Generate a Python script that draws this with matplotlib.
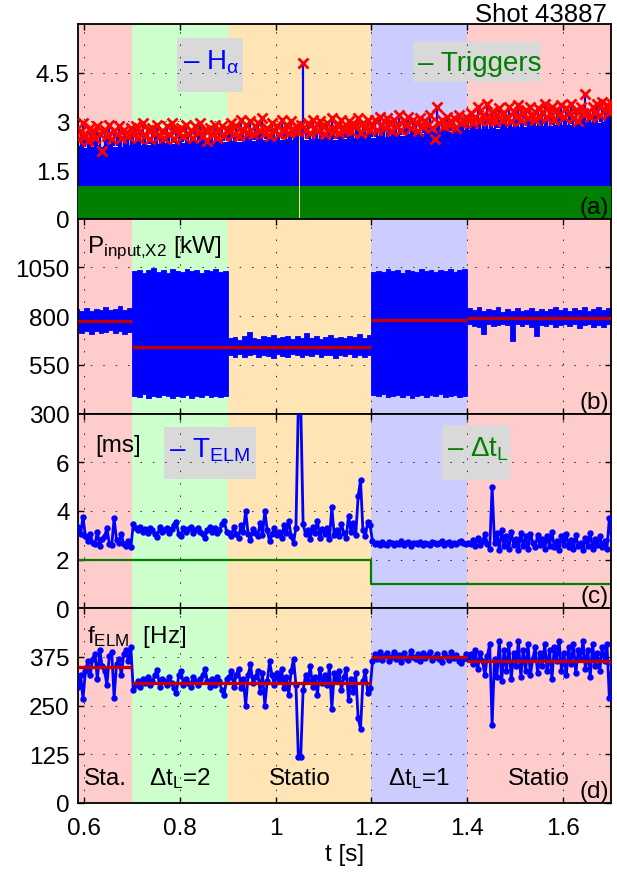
import numpy as np
import matplotlib
matplotlib.use("Agg")
import matplotlib.pyplot as plt
from matplotlib.patches import Rectangle
from matplotlib.transforms import blended_transform_factory

plt.rcParams.update({
    "font.family": ["Liberation Sans", "DejaVu Sans"],
    "font.size": 17.5,
    "mathtext.fontset": "custom",
    "mathtext.rm": "Liberation Sans",
    "mathtext.it": "Liberation Sans:italic",
    "mathtext.bf": "Liberation Sans:bold",
    "mathtext.default": "regular",
    "axes.linewidth": 1.3,
    "xtick.direction": "in",
    "ytick.direction": "in",
    "xtick.top": True,
    "ytick.right": True,
    "xtick.major.size": 4,
    "ytick.major.size": 4,
    "xtick.major.width": 1.0,
    "ytick.major.width": 1.0,
    "xtick.major.pad": 10,
    "ytick.major.pad": 6,
})

# ---------------- time bases ----------------
t_env = 0.585 + 0.01 * np.arange(113)     # 10 ms envelope samples
t_elm = 0.5875 + 0.005 * np.arange(224)   # 5 ms ELM samples

# experiment phases
phase_edges = [0.587, 0.7, 0.9, 1.2, 1.4, 1.701]
phase_colors = ["#ffcccc", "#ccffcc", "#ffe4b5", "#ccccff", "#ffcccc"]
phase_labels = ["Sta.", "Δt$_L$=2", "Statio", "Δt$_L$=1", "Statio"]
mean_edges = [0.587, 0.7, 1.2, 1.4, 1.701]

# ---------------- (a) H-alpha and triggers ----------------
ha_env = ([2.20, 2.25, 2.18, 2.22, 2.28, 2.20, 2.24, 2.30, 2.22, 2.26, 2.20, 2.28]
          + [2.30, 2.26, 2.32, 2.28, 2.35, 2.30, 2.33, 2.38, 2.31, 2.36,
             2.34, 2.40, 2.33, 2.37, 2.42, 2.35, 2.39, 2.36, 2.41, 2.38]
          + [2.40, 2.44, 2.38, 2.42, 2.46, 2.40, 2.45, 2.43, 2.48, 2.42,
             2.46, 2.44, 2.47, 2.43, 2.45, 2.49, 2.44, 2.47, 2.45, 2.50,
             2.46, 2.48, 2.44, 2.50, 2.47, 2.52, 2.48, 2.51, 2.49, 2.53]
          + [2.50, 2.54, 2.52, 2.57, 2.55, 2.60, 2.56, 2.62, 2.60, 2.64,
             2.62, 2.66, 2.64, 2.68, 2.66, 2.70, 2.68, 2.72, 2.70, 2.74]
          + [2.72, 2.76, 2.74, 2.78, 2.76, 2.80, 2.78, 2.82, 2.80, 2.84,
             2.82, 2.86, 2.84, 2.85, 2.87, 2.86, 2.88, 2.87, 2.90, 2.88,
             2.91, 2.90, 2.93, 2.92, 2.95, 2.94, 2.97, 2.96, 2.99, 3.00, 3.00])

ha_peak = ([2.45, 2.70, 2.95, 2.55, 2.40, 2.80, 2.65, 2.50, 2.85, 2.60,
            2.08, 2.75, 2.55, 2.90, 2.45, 2.70, 2.60, 2.85, 2.50, 2.75,
            2.65, 2.55, 2.80]
           + [2.60, 2.85, 2.50, 2.70, 2.95, 2.55, 2.75, 2.45, 2.80, 2.65,
              2.90, 2.55, 2.70, 2.50, 2.85, 2.60, 2.95, 2.45, 2.75, 2.65,
              2.80, 2.55, 2.90, 2.60, 2.70, 2.50, 2.85, 2.65, 2.95, 2.55,
              2.75, 2.40, 2.80, 2.60, 2.90, 2.50, 2.70, 2.85, 2.55, 2.75]
           + [2.70, 2.95, 2.60, 2.85, 2.55, 3.05, 2.75, 2.90, 2.65, 3.00,
              2.60, 2.85, 2.95, 2.70, 3.10, 2.65, 2.80, 2.55, 2.95, 2.75,
              2.85, 2.60, 3.05, 2.70, 2.90, 2.65, 3.00, 2.75, 2.85, 2.70,
              2.90, 4.80, 2.75, 2.95, 2.65, 3.05, 2.80, 2.70, 3.00, 2.85,
              2.60, 2.95, 2.75, 3.10, 2.70, 2.90, 2.65, 3.05, 2.80, 2.75,
              3.00, 2.70, 2.90, 2.85, 3.10, 2.65, 2.95, 2.80, 3.05, 2.75]
           + [2.85, 3.05, 2.75, 3.15, 2.90, 2.80, 3.10, 2.95, 2.70, 3.05,
              2.85, 3.20, 2.75, 3.00, 2.90, 3.15, 2.80, 3.05, 2.95, 2.70,
              3.10, 2.85, 3.00, 2.90, 3.20, 2.80, 2.47, 3.43, 2.95, 3.05,
              2.85, 3.15, 2.90, 3.00, 3.10, 2.80, 3.20, 2.95, 3.05, 3.15]
           + [3.05, 3.25, 2.95, 3.15, 3.45, 3.00, 3.20, 3.10, 3.55, 3.05,
              3.30, 3.00, 3.20, 3.40, 3.05, 3.25, 3.10, 3.45, 3.00, 3.30,
              3.15, 3.50, 3.05, 3.25, 3.35, 3.10, 3.45, 3.20, 3.05, 3.40,
              3.15, 3.30, 3.55, 3.10, 3.25, 3.45, 3.05, 3.35, 3.20, 3.50,
              3.15, 3.40, 3.25, 3.55, 3.10, 3.35, 3.00, 3.45, 3.25, 3.83,
              3.30, 3.15, 3.45, 3.25, 3.55, 3.20, 3.60, 3.35, 3.50, 3.30,
              3.55])

signal_gap = (1.049, 1.052)   # acquisition dropout
trig_edges = [0.587, signal_gap[0], signal_gap[1], 1.701]
trig_level = [1, 0, 1, 1]

# ---------------- (b) input power ----------------
p_hi = ([835, 828, 842, 826, 838, 832, 845, 829, 836, 850, 833, 840]
        + [1030, 1038, 1022, 1035, 1045, 1028, 1036, 1024, 1040, 1032,
           1026, 1042, 1030, 1036, 1024, 1038, 1030, 1044, 1028, 1034]
        + [688, 695, 680, 700, 718, 690, 684, 698, 692, 705,
           686, 694, 700, 682, 696, 690, 712, 688, 698, 684,
           695, 702, 688, 694, 686, 700, 692, 708, 690, 704]
        + [1025, 1034, 1028, 1040, 1030, 1036, 1024, 1038, 1032, 1027,
           1042, 1030, 1035, 1026, 1038, 1031, 1044, 1029, 1036, 1040]
        + [842, 830, 848, 825, 838, 832, 845, 822, 836, 828,
           840, 826, 834, 844, 828, 838, 824, 835, 848, 830,
           840, 826, 842, 832, 845, 828, 838, 846, 830, 840, 835])
p_lo = ([728, 715, 722, 708, 725, 712, 720, 730, 714, 722, 710, 718]
        + [392, 385, 398, 380, 390, 384, 396, 388, 378, 392,
           386, 394, 382, 390, 387, 397, 383, 391, 385, 388]
        + [600, 592, 605, 588, 598, 606, 590, 602, 595, 585,
           603, 596, 590, 604, 598, 588, 600, 594, 606, 590,
           598, 602, 586, 600, 594, 604, 590, 598, 592, 602]
        + [395, 388, 400, 384, 392, 397, 386, 394, 381, 390,
           396, 385, 393, 388, 399, 383, 391, 395, 387, 392]
        + [758, 750, 745, 708, 762, 748, 755, 760, 752, 672,
           758, 750, 762, 746, 697, 756, 750, 760, 742, 755,
           762, 748, 758, 738, 752, 760, 746, 756, 744, 758, 752])
p_mean = [776, 642, 781, 788]

# ---------------- (c) ELM period and laser interval ----------------
t_elm_ms = ([3.35, 3.05, 3.75, 2.95, 2.75, 3.05, 2.70, 2.62, 3.15, 2.55,
             2.85, 2.95, 3.30, 2.65, 2.58, 3.70, 2.80, 2.70, 3.05, 2.62,
             2.55, 2.75, 2.50]
            + [3.45, 3.30, 3.20, 3.35, 3.15, 3.25, 3.10, 3.30, 3.20, 3.05,
               2.92, 3.35, 3.15, 3.20, 3.30, 3.10, 3.25, 3.40, 3.55, 3.05,
               2.95, 3.30, 3.15, 3.25, 3.35, 3.10, 3.20, 3.30, 3.15, 3.05,
               2.90, 3.20, 3.35, 3.15, 3.30, 3.10, 3.20, 3.45, 3.60, 3.15]
            + [3.10, 2.95, 3.35, 3.05, 2.90, 3.40, 3.15, 4.00, 3.05, 2.80,
               3.25, 3.10, 2.95, 3.50, 3.00, 4.00, 3.20, 2.75, 3.05, 3.30,
               3.00, 3.15, 2.90, 3.40, 3.10, 3.60, 2.95, 2.70, 3.30, 8.40,
               8.40, 3.45, 3.05, 3.20, 2.85, 3.35, 3.10, 3.60, 2.90, 3.25,
               3.05, 3.30, 2.85, 4.15, 3.00, 3.20, 2.95, 3.45, 3.10, 2.90,
               3.80, 3.15, 3.50, 3.00, 4.60, 5.25, 3.20, 2.95, 3.55, 3.40]
            + [2.75, 2.62, 2.70, 2.58, 2.72, 2.65, 2.60, 2.74, 2.66, 2.58,
               2.70, 2.64, 2.76, 2.60, 2.68, 2.72, 2.57, 2.66, 2.70, 2.62,
               2.74, 2.60, 2.68, 2.64, 2.58, 2.72, 2.66, 2.62, 2.70, 2.76,
               2.60, 2.66, 2.72, 2.58, 2.68, 2.64, 2.74, 2.78, 2.70, 2.62]
            + [2.70, 2.62, 2.80, 2.55, 2.90, 2.60, 2.75, 3.05, 2.65, 2.45,
               5.00, 2.70, 3.10, 2.40, 3.20, 2.55, 2.95, 2.45, 3.15, 2.60,
               2.85, 2.40, 3.10, 2.55, 2.95, 2.45, 3.05, 2.70, 2.50, 3.00,
               2.60, 2.85, 2.45, 2.95, 2.55, 3.15, 2.50, 2.75, 2.40, 2.95,
               2.60, 3.05, 2.50, 2.80, 2.45, 3.00, 2.55, 2.70, 2.40, 2.90,
               2.55, 3.10, 2.45, 2.85, 2.60, 2.95, 2.50, 2.75, 2.45, 3.70,
               2.80])
dtl_t = [0.587, 1.2, 1.701]
dtl_v = [2, 1, 1]

# ---------------- (d) ELM frequency ----------------
f_elm = 1000.0 / np.asarray(t_elm_ms)

BLUE = "#0000ff"
RED = "#ff0000"
DARKRED = "#c00000"
GREEN = "#008000"
BOXGRAY = "#d9d9d9"
LEGEND_FS = 20


def stair(t, v):
    """Staircase outline with each sample held over its own bin."""
    dt = t[1] - t[0]
    edges = np.append(t - dt / 2, t[-1] + dt / 2)
    x = np.repeat(edges, 2)[1:-1]
    y = np.repeat(np.asarray(v, float), 2)
    return x, y


def cut_gap(x, y, gap):
    left = x < gap[0]
    right = x > gap[1]
    yl = np.interp(gap[0], x, y)
    yr = np.interp(gap[1], x, y)
    xs = np.concatenate([x[left], [gap[0], gap[0], gap[1], gap[1]], x[right]])
    ys = np.concatenate([y[left], [yl, np.nan, np.nan, yr], y[right]])
    return xs, ys


def legend_box(ax, text, color, box, text_xy):
    """Gray legend patch (below the grid) with a single coloured entry."""
    x0, y0, x1, y1 = box
    ax.add_patch(Rectangle((x0, y0), x1 - x0, y1 - y0, transform=ax.transAxes,
                           fc=BOXGRAY, ec="none", zorder=0.3))
    ax.text(text_xy[0], text_xy[1], text, color=color, fontsize=LEGEND_FS,
            ha="left", va="baseline", transform=ax.transAxes, zorder=5)


fig, axes = plt.subplots(4, 1, figsize=(6.17, 8.78), dpi=100, sharex=True)
fig.subplots_adjust(left=0.1264, right=0.9903, bottom=0.0843, top=0.9715, hspace=0)

for ax in axes:
    for a, b, c in zip(phase_edges[:-1], phase_edges[1:], phase_colors):
        ax.axvspan(a, b, color=c, lw=0, zorder=0)
    ax.set_axisbelow(True)
    ax.grid(True, color="#333333", lw=0.75, ls=(0, (1.4, 10.5)))
    ax.set_xlim(phase_edges[0], phase_edges[-1])
    ax.tick_params(which="both", length=4, colors="black")

# (a)
ax = axes[0]
xs, ys = cut_gap(*stair(t_env, ha_env), signal_gap)
ax.fill_between(xs, 0, ys, color=BLUE, lw=0, zorder=2)
ax.vlines(t_elm, np.interp(t_elm, t_env, ha_env), ha_peak, color=BLUE, lw=1.6, zorder=2)
ax.fill_between(trig_edges, 0, trig_level, step="post", color=GREEN, lw=0, zorder=3)
ax.plot(t_elm, ha_peak, ls="none", marker="x", color=RED, ms=7.5, mew=2.0, zorder=4)
ax.set_ylim(0, 6)
ax.set_yticks([0, 1.5, 3, 4.5])
ax.set_yticklabels(["0", "1.5", "3", "4.5"])
legend_box(ax, "– H$_{α}$", BLUE, (0.185, 0.649, 0.309, 0.927), (0.197, 0.772))
legend_box(ax, "– Triggers", GREEN, (0.628, 0.701, 0.867, 0.909), (0.638, 0.766))
ax.text(0.996, 0.005, "(a)", ha="right", va="bottom", transform=ax.transAxes, zorder=5)

# (b)
ax = axes[1]
xs, lo = stair(t_env, p_lo)
_, hi = stair(t_env, p_hi)
ax.fill_between(xs, lo, hi, color=BLUE, lw=0.6, zorder=2)
ax.hlines(p_mean, mean_edges[:-1], mean_edges[1:], color=DARKRED, lw=2.4, zorder=3)
ax.set_ylim(300, 1300)
ax.set_yticks([300, 550, 800, 1050])
ax.text(0.0175, 0.829, "P$_{\\mathrm{input{,}X2}}$ [kW]", ha="left", va="baseline",
        transform=ax.transAxes, zorder=5)
ax.text(0.996, 0.005, "(b)", ha="right", va="bottom", transform=ax.transAxes, zorder=5)

# (c)
ax = axes[2]
ax.step(dtl_t, dtl_v, where="post", color=GREEN, lw=1.6, zorder=2)
ax.plot(t_elm, t_elm_ms, "-o", color=BLUE, lw=2.0, ms=3.6, zorder=3)
ax.set_ylim(0, 8)
ax.set_yticks([0, 2, 4, 6])
ax.text(0.032, 0.807, "[ms]", ha="left", va="baseline", transform=ax.transAxes, zorder=5)
legend_box(ax, "– T$_{\\mathrm{ELM}}$", BLUE, (0.161, 0.664, 0.334, 0.931), (0.171, 0.779))
legend_box(ax, "– Δt$_{L}$", GREEN, (0.682, 0.659, 0.810, 0.941), (0.693, 0.782))
ax.text(0.996, 0.005, "(c)", ha="right", va="bottom", transform=ax.transAxes, zorder=5)

# (d)
ax = axes[3]
ax.plot(t_elm, f_elm, "-o", color=BLUE, lw=2.0, ms=3.6, zorder=3)
t_arr = np.asarray(t_elm)
seg_means = [f_elm[(t_arr >= a) & (t_arr < b)].mean()
             for a, b in zip(mean_edges[:-1], mean_edges[1:])]
ax.hlines(seg_means, mean_edges[:-1], mean_edges[1:], color=DARKRED, lw=2.4, zorder=4)
ax.set_ylim(0, 500)
ax.set_yticks([0, 125, 250, 375])
ax.text(0.0165, 0.827, "f$_{\\mathrm{ELM}}$  [Hz]", ha="left", va="baseline",
        transform=ax.transAxes, zorder=5)
trans = blended_transform_factory(ax.transData, ax.transAxes)
for a, b, lab in zip(phase_edges[:-1], phase_edges[1:], phase_labels):
    ax.text((a + b) / 2, 0.098, lab, ha="center", va="baseline", transform=trans, zorder=5)
ax.text(0.996, 0.005, "(d)", ha="right", va="bottom", transform=ax.transAxes, zorder=5)
ax.set_xticks([0.6, 0.8, 1.0, 1.2, 1.4, 1.6])
ax.set_xticklabels(["0.6", "0.8", "1", "1.2", "1.4", "1.6"])
ax.set_xlabel("t [s]", labelpad=3)

fig.text(607 / 617, 1 - 21.5 / 878, "Shot 43887", fontsize=18.5, ha="right", va="baseline")

fig.savefig("out.png", dpi=100)
